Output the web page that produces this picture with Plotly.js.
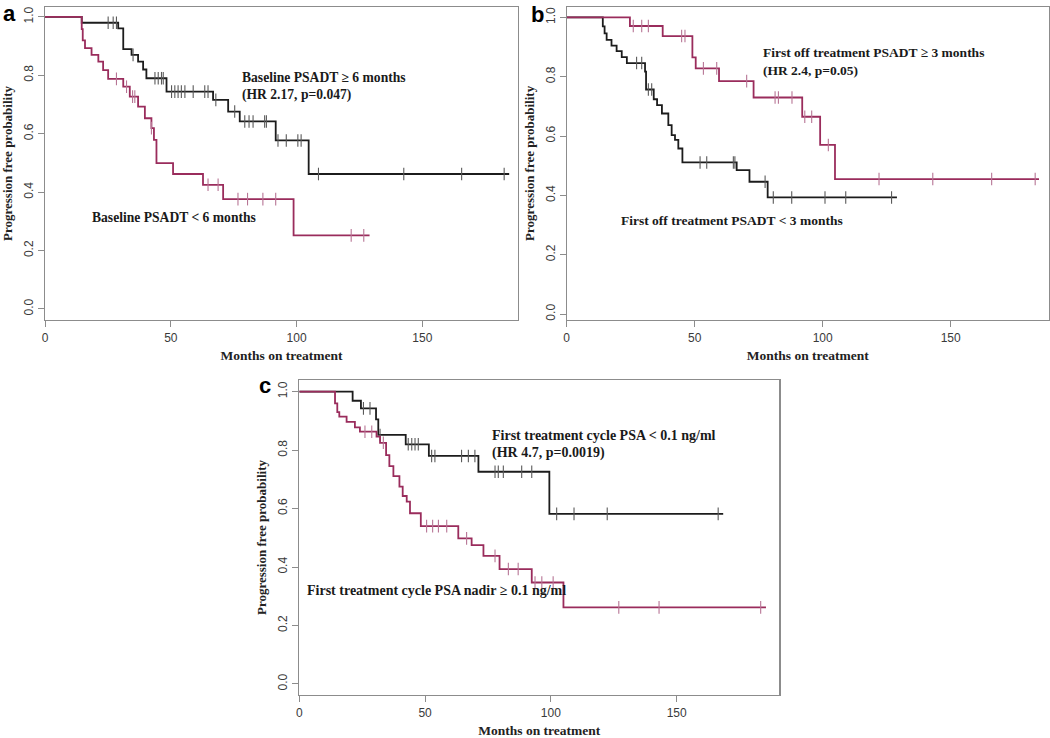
<!DOCTYPE html>
<html>
<head>
<meta charset="utf-8">
<script src="https://cdn.plot.ly/plotly-3.0.1.min.js"></script>
<style>html,body{margin:0;padding:0;background:#fff;}#chart{width:1050px;height:738px;}</style>
</head>
<body>
<div id="chart"></div>
<script>
// ---------- Panel a: Baseline PSADT ----------
const aHighTimes = [0, 14.6, 29.1, 31.1, 34.4, 37.0, 39.0, 40.3, 48.3, 66.8, 72.8, 77.4, 91.7, 104.8];
const aHighSurv  = [1, 0.980, 0.961, 0.890, 0.870, 0.847, 0.820, 0.790, 0.744, 0.716, 0.676, 0.642, 0.577, 0.462];
const aHighCens  = [25.1, 27.1, 28.4, 35.0, 43.7, 45.0, 46.3, 47.0, 50.3, 51.6, 52.9, 54.2, 55.6, 58.9, 63.5, 64.8, 67.9, 75.4, 79.4, 81.1, 82.7, 87.3, 88.0, 92.6, 95.9, 100.5, 101.8, 108.7, 142.6, 165.6, 182.5];
const aHighEnd   = 184.5;
const aLowTimes  = [0, 14.6, 15.0, 15.9, 18.5, 21.2, 23.1, 25.1, 31.1, 33.7, 37.0, 39.7, 42.3, 43.3, 44.3, 50.9, 62.8, 70.8, 98.8];
const aLowSurv   = [1, 0.958, 0.920, 0.893, 0.870, 0.847, 0.818, 0.788, 0.761, 0.727, 0.693, 0.653, 0.619, 0.579, 0.499, 0.462, 0.425, 0.376, 0.252];
const aLowCens   = [28.4, 32.4, 34.8, 35.7, 42.3, 64.8, 68.8, 76.7, 80.5, 86.6, 91.7, 121.7, 126.7];
const aLowEnd    = 129;

// ---------- Panel b: First off treatment PSADT ----------
const bHighTimes = [0, 24.7, 37.5, 49.1, 50.4, 59.5, 73.0, 92.0, 99.0, 104.8];
const bHighSurv  = [1, 0.971, 0.937, 0.865, 0.828, 0.785, 0.730, 0.665, 0.570, 0.455];
const bHighCens  = [26.0, 29.3, 31.9, 44.9, 46.2, 53.4, 58.6, 70.3, 81.4, 82.7, 88.0, 93.0, 95.7, 102.2, 122.0, 143.0, 166.0, 183.0];
const bHighEnd   = 184.5;
const bLowTimes  = [0, 14.1, 14.8, 15.6, 17.5, 19.5, 21.5, 23.5, 30.6, 31.0, 34.0, 35.3, 37.2, 39.7, 41.0, 42.3, 43.6, 45.2, 66.4, 71.4, 78.5];
const bLowSurv   = [1, 0.970, 0.946, 0.924, 0.905, 0.886, 0.866, 0.846, 0.817, 0.757, 0.724, 0.704, 0.676, 0.637, 0.603, 0.587, 0.558, 0.511, 0.485, 0.446, 0.393];
const bLowCens   = [27.3, 29.3, 31.9, 33.2, 52.1, 54.7, 65.1, 65.7, 77.5, 80.7, 87.9, 100.9, 109.0, 126.9];
const bLowEnd    = 129;

// ---------- Panel c: First treatment cycle PSA nadir ----------
const cLowPsaTimes = [0, 21.2, 24.5, 30.5, 31.4, 42.3, 51.5, 71.2, 99.4];
const cLowPsaSurv  = [1, 0.969, 0.943, 0.905, 0.852, 0.820, 0.780, 0.726, 0.582];
const cLowPsaCens  = [25.5, 28.1, 32.1, 43.3, 44.7, 46.0, 47.3, 52.6, 53.9, 64.5, 67.2, 69.8, 77.8, 79.1, 81.1, 88.4, 92.4, 102.3, 109.2, 122.4, 166.5];
const cLowPsaEnd   = 168.5;
const cHighPsaTimes = [0, 14.2, 15.1, 15.9, 18.8, 22.1, 24.1, 30.7, 32.1, 34.5, 35.8, 37.4, 39.8, 41.1, 42.7, 44.0, 48.3, 63.2, 68.5, 73.2, 79.6, 92.4, 105.0];
const cHighPsaSurv  = [1, 0.960, 0.930, 0.915, 0.897, 0.878, 0.863, 0.846, 0.825, 0.783, 0.745, 0.711, 0.675, 0.643, 0.624, 0.584, 0.540, 0.498, 0.475, 0.438, 0.393, 0.347, 0.262];
const cHighPsaCens  = [26.1, 28.8, 33.4, 50.6, 53.0, 55.3, 58.6, 66.5, 77.8, 83.1, 87.0, 93.7, 96.4, 100.9, 127.0, 143.0, 183.4];
const cHighPsaEnd   = 185.5;

// tick labels
const xTickVals = [0, 50, 100, 150];
const yTickVals = [0, 0.2, 0.4, 0.6, 0.8, 1.0];

const BLACK = '#1c1c1c', BLACK_C = '#5a5a5a';
const RED = '#9a2c5c', RED_C = '#b77595';

function survAt(times, surv, t) {
  let s = surv[0];
  for (let i = 0; i < times.length; i++) { if (times[i] <= t) s = surv[i]; }
  return s;
}
function curve(times, surv, end, cens, color, ccolor, xa, ya) {
  const x = times.concat([end]);
  const y = surv.concat([surv[surv.length - 1]]);
  return [
    {x: x, y: y, type: 'scatter', mode: 'lines', line: {shape: 'hv', color: color, width: 1.8},
     xaxis: xa, yaxis: ya, hoverinfo: 'skip', showlegend: false},
    {x: cens, y: cens.map(t => survAt(times, surv, t)), type: 'scatter', mode: 'markers',
     marker: {symbol: 'line-ns', size: 9, line: {color: ccolor, width: 1.1}},
     xaxis: xa, yaxis: ya, hoverinfo: 'skip', showlegend: false}
  ];
}

const data = [].concat(
  curve(aHighTimes, aHighSurv, aHighEnd, aHighCens, BLACK, BLACK_C, 'x', 'y'),
  curve(aLowTimes, aLowSurv, aLowEnd, aLowCens, RED, RED_C, 'x', 'y'),
  curve(bLowTimes, bLowSurv, bLowEnd, bLowCens, BLACK, BLACK_C, 'x2', 'y2'),
  curve(bHighTimes, bHighSurv, bHighEnd, bHighCens, RED, RED_C, 'x2', 'y2'),
  curve(cLowPsaTimes, cLowPsaSurv, cLowPsaEnd, cLowPsaCens, BLACK, BLACK_C, 'x3', 'y3'),
  curve(cHighPsaTimes, cHighPsaSurv, cHighPsaEnd, cHighPsaCens, RED, RED_C, 'x3', 'y3')
);

const W = 1050, H = 738;
const tickFont = {family: 'Liberation Sans, Arial, sans-serif', size: 12, color: '#3a3a3a'};
const xTitleFont = {family: 'Liberation Serif, Times New Roman, serif', size: 13.5, color: '#222', weight: 'bold'};
const yTitleFont = {family: 'Liberation Serif, Times New Roman, serif', size: 13, color: '#222', weight: 'bold'};
function xax(px0, px1, range, anchor) {
  return {domain: [px0 / W, px1 / W], range: range, anchor: anchor, tickvals: xTickVals, ticktext: xTickVals.map(String),
    showline: true, mirror: true, linecolor: '#8c8c8c', linewidth: 1.2, ticks: 'outside', ticklen: 6, tickcolor: '#8c8c8c',
    showgrid: false, zeroline: false, tickfont: tickFont,
    title: {text: 'Months on treatment', font: xTitleFont, standoff: 7}};
}
function yax(py0, py1, range, anchor) {
  return {domain: [1 - py1 / H, 1 - py0 / H], range: range, anchor: anchor, tickvals: yTickVals,
    ticktext: yTickVals.map(v => v.toFixed(1)), tickangle: -90,
    showline: true, mirror: true, linecolor: '#8c8c8c', linewidth: 1.2, ticks: 'outside', ticklen: 6, tickcolor: '#8c8c8c',
    showgrid: false, zeroline: false, tickfont: tickFont,
    title: {text: 'Progression free probability', font: yTitleFont, standoff: 6}};
}
function annFont(size) {
  return {family: 'Liberation Serif, Times New Roman, serif', size: size, color: '#1a1a1a', weight: 'bold'};
}
function note(text, x, y, xr, yr, size) {
  return {text: text, x: x, y: y, xref: xr, yref: yr, xanchor: 'left', yanchor: 'middle', showarrow: false, font: annFont(size)};
}
function letter(text, px, py) {
  return {text: text, x: px / W, y: 1 - py / H, xref: 'paper', yref: 'paper', xanchor: 'center', yanchor: 'middle',
    showarrow: false, font: {family: 'Liberation Sans, Arial, sans-serif', size: 22, color: '#000', weight: 'bold'}};
}

const layout = {
  width: W, height: H, margin: {l: 0, r: 0, t: 0, b: 0},
  paper_bgcolor: '#fff', plot_bgcolor: '#fff', showlegend: false,
  xaxis: xax(45, 518, [0, 188], 'y'),
  yaxis: yax(7, 320, [-0.038, 1.034], 'x'),
  xaxis2: xax(566.7, 1049, [0, 188.4], 'y2'),
  yaxis2: yax(6.7, 320, [-0.02, 1.036], 'x2'),
  xaxis3: xax(299.3, 779.3, [0, 190.8], 'y3'),
  yaxis3: yax(380, 695, [-0.038, 1.04], 'x3'),
  annotations: [
    note('Baseline PSADT ≥ 6 months', 77.4, 0.791, 'x', 'y', 13.6),
    note('(HR 2.17, p=0.047)', 77.4, 0.733, 'x', 'y', 13.6),
    note('Baseline PSADT &lt; 6 months', 17.9, 0.312, 'x', 'y', 13.6),
    note('First off treatment PSADT ≥ 3 months', 75.9, 0.882, 'x2', 'y2', 13.5),
    note('(HR 2.4, p=0.05)', 75.9, 0.822, 'x2', 'y2', 13.5),
    note('First off treatment PSADT &lt; 3 months', 20.4, 0.315, 'x2', 'y2', 13.5),
    note('First treatment cycle PSA &lt; 0.1 ng/ml', 75.8, 0.849, 'x3', 'y3', 14),
    note('(HR 4.7, p=0.0019)', 75.8, 0.789, 'x3', 'y3', 14),
    note('First treatment cycle PSA nadir ≥ 0.1 ng/ml', 2.3, 0.319, 'x3', 'y3', 14),
    letter('a', 9, 13), letter('b', 537, 15), letter('c', 265, 386)
  ]
};

Plotly.newPlot('chart', data, layout, {staticPlot: true, displayModeBar: false});
</script>
</body>
</html>
